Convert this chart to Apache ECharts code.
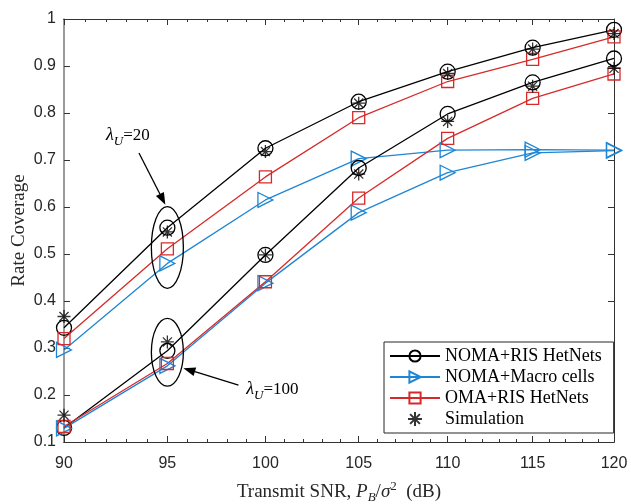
<!DOCTYPE html>
<html>
<head>
<meta charset="utf-8">
<script src="https://cdn.jsdelivr.net/npm/echarts@6/dist/echarts.min.js"></script>
<style>
  html, body { margin: 0; padding: 0; background: #fff; }
  #chart { width: 631px; height: 504px; }
</style>
</head>
<body>
<div id="chart"></div>
<script>
// x values (transmit SNR, dB) - the figure uses a log-scaled x axis
const snr = [90, 95, 100, 105, 110, 115, 120];
const xTicks = [90, 95, 100, 105, 110, 115, 120];
const yTicks = [0.1, 0.2, 0.3, 0.4, 0.5, 0.6, 0.7, 0.8, 0.9, 1];

// lambda_U = 20
const nomaRis20 = [0.343, 0.556, 0.725, 0.824, 0.888, 0.939, 0.977];
const nomaMacro20 = [0.296, 0.480, 0.615, 0.703, 0.721, 0.722, 0.721];
const omaRis20 = [0.320, 0.511, 0.664, 0.790, 0.867, 0.914, 0.962];
const sim20 = [0.367, 0.547, 0.718, 0.821, 0.884, 0.936, 0.969];

// lambda_U = 100
const nomaRis100 = [0.130, 0.294, 0.498, 0.683, 0.798, 0.865, 0.916];
const nomaMacro100 = [0.129, 0.262, 0.438, 0.588, 0.673, 0.715, 0.720];
const omaRis100 = [0.133, 0.267, 0.441, 0.619, 0.746, 0.831, 0.883];
const sim100 = [0.157, 0.313, 0.498, 0.670, 0.782, 0.857, 0.895];

const legendNames = ['NOMA+RIS HetNets', 'NOMA+Macro cells', 'OMA+RIS HetNets', 'Simulation'];

// minor ticks every 1 dB
const xMinor = [];
for (let v = 91; v < 120; v++) if (v % 5 !== 0) xMinor.push(v);

const SERIF = 'Liberation Serif, Times New Roman, serif';
const SANS = 'Liberation Sans, Arial, sans-serif';
const AX = '#333';

const chart = echarts.init(document.getElementById('chart'));

function pairs(ys) {
    return snr.map((x, i) => [x, ys[i]]);
}

function curve(name, ys, color, symbol, size, rotate) {
    return {
        type: 'line',
        name: name,
        data: pairs(ys),
        symbol: symbol,
        symbolSize: size,
        symbolRotate: rotate || 0,
        showAllSymbol: true,
        clip: false,
        z: 3,
        lineStyle: { color: color, width: 1.3 },
        itemStyle: { color: 'transparent', borderColor: color, borderWidth: 1.3 },
        emphasis: { disabled: true }
    };
}

const STAR = 'path://M10,0L10,20M0,10L20,10M3,3L17,17M3,17L17,3';

function sim(ys) {
    return {
        type: 'scatter',
        name: 'Simulation',
        data: pairs(ys),
        symbol: STAR,
        symbolSize: 13,
        clip: false,
        z: 4,
        itemStyle: { color: 'transparent', borderColor: '#000', borderWidth: 1.3 },
        emphasis: { disabled: true }
    };
}

function xAxisOf(pos, ticks, len, labels) {
    return {
        type: 'log',
        logBase: 10,
        min: 90,
        max: 120,
        position: pos,
        offset: 0,
        axisLine: { show: true, lineStyle: { color: AX, width: 1 } },
        axisTick: { show: true, inside: true, length: len, customValues: ticks, lineStyle: { color: AX } },
        axisLabel: labels ? {
            show: true, customValues: ticks, margin: 14,
            fontFamily: SANS, fontSize: 16, color: '#262626'
        } : { show: false },
        minorTick: { show: false },
        splitLine: { show: false }
    };
}

const xAxes = [
    xAxisOf('bottom', xTicks, 6, true),
    xAxisOf('bottom', xMinor, 3, false),
    xAxisOf('top', xTicks, 6, false),
    xAxisOf('top', xMinor, 3, false)
];
xAxes[0].name = '{t|Transmit SNR, }{i|P}{sub|B}{t|/}{i|σ}{sup|2}{t|  (dB)}';
xAxes[0].nameLocation = 'middle';
xAxes[0].nameGap = 38;
xAxes[0].nameTextStyle = {
    fontFamily: SERIF, fontSize: 19, color: '#262626',
    rich: {
        t: { fontFamily: SERIF, fontSize: 19, color: '#262626' },
        i: { fontFamily: SERIF, fontSize: 19, fontStyle: 'italic', color: '#262626' },
        sub: { fontFamily: SERIF, fontSize: 13, fontStyle: 'italic', color: '#262626', padding: [11, 0, 0, 0] },
        sup: { fontFamily: SERIF, fontSize: 13, color: '#262626', padding: [0, 0, 11, 0] }
    }
};

function yAxisOf(pos, labels) {
    return {
        type: 'value',
        min: 0.1,
        max: 1,
        interval: 0.1,
        position: pos,
        offset: 0,
        axisLine: { show: true, lineStyle: { color: pos === 'left' ? '#7a7a7a' : AX, width: pos === 'left' ? 1.5 : 1 } },
        axisTick: { show: true, inside: true, length: 6, lineStyle: { color: AX } },
        axisLabel: labels ? {
            show: true, margin: 8, fontFamily: SANS, fontSize: 16, color: '#262626',
            showMinLabel: true, showMaxLabel: true,
            formatter: v => (Math.abs(v - 1) < 1e-9 ? '1' : v.toFixed(1))
        } : { show: false },
        splitLine: { show: false }
    };
}

const yAxes = [yAxisOf('left', true), yAxisOf('right', false)];
yAxes[0].name = 'Rate Coverage';
yAxes[0].nameLocation = 'middle';
yAxes[0].nameGap = 35;
yAxes[0].nameMoveOverlap = false;
yAxes[0].nameTextStyle = { fontFamily: SERIF, fontSize: 19, color: '#262626' };

chart.setOption({
    animation: false,
    backgroundColor: '#fff',
    grid: { left: 64, right: 17, top: 19, bottom: 62, containLabel: false, outerBoundsMode: 'none' },
    xAxis: xAxes,
    yAxis: yAxes,
    legend: {
        data: legendNames,
        orient: 'vertical',
        left: 384,
        top: 342,
        itemWidth: 50,
        itemHeight: 14,
        itemGap: 3,
        padding: [5, 12, 5, 5],
        backgroundColor: '#fff',
        borderColor: '#262626',
        borderWidth: 1,
        borderRadius: 0,
        selectedMode: false,
        textStyle: { fontFamily: SERIF, fontSize: 18, lineHeight: 18, color: '#000' }
    },
    series: [
        curve('NOMA+RIS HetNets', nomaRis20, '#000000', 'circle', 15),
        curve('NOMA+Macro cells', nomaMacro20, '#1f86d4', 'triangle', 15, -90),
        curve('OMA+RIS HetNets', omaRis20, '#d62a2a', 'rect', 12),
        sim(sim20),
        curve('NOMA+RIS HetNets', nomaRis100, '#000000', 'circle', 15),
        curve('NOMA+Macro cells', nomaMacro100, '#1f86d4', 'triangle', 15, -90),
        curve('OMA+RIS HetNets', omaRis100, '#d62a2a', 'rect', 12),
        sim(sim100)
    ]
});

// annotations (data coordinates): ellipses round the 95 dB points, arrows and labels
const ellipses = [
    { x: 95, y: 0.514, dy: 0.087, rx: 16 },
    { x: 95, y: 0.291, dy: 0.072, rx: 16 }
];
const arrows = [
    { from: [93.6, 0.715], to: [94.9, 0.605] },
    { from: [98.6, 0.221], to: [95.8, 0.257] }
];
const notes = [
    { x: 92.0, y: 0.752, text: '20' },
    { x: 99.0, y: 0.212, text: '100' }
];

const px = (x, y) => chart.convertToPixel({ xAxisIndex: 0, yAxisIndex: 0 }, [x, y]);
const graphics = [];

ellipses.forEach(e => {
    const c = px(e.x, e.y);
    const t = px(e.x, e.y + e.dy);
    graphics.push({
        type: 'ellipse', z: 10,
        shape: { cx: c[0], cy: c[1], rx: e.rx, ry: c[1] - t[1] },
        style: { fill: 'none', stroke: '#000', lineWidth: 1.3 }
    });
});

arrows.forEach(a => {
    const p0 = px(a.from[0], a.from[1]);
    const p1 = px(a.to[0], a.to[1]);
    const dx = p1[0] - p0[0], dy = p1[1] - p0[1];
    const len = Math.sqrt(dx * dx + dy * dy);
    const ux = dx / len, uy = dy / len;
    const hl = 12, hw = 4.5;
    const bx = p1[0] - ux * hl, by = p1[1] - uy * hl;
    graphics.push({
        type: 'line', z: 10,
        shape: { x1: p0[0], y1: p0[1], x2: bx, y2: by },
        style: { stroke: '#000', lineWidth: 1.3 }
    });
    graphics.push({
        type: 'polygon', z: 10,
        shape: { points: [[p1[0], p1[1]], [bx - uy * hw, by + ux * hw], [bx + uy * hw, by - ux * hw]] },
        style: { fill: '#000' }
    });
});

notes.forEach(n => {
    const p = px(n.x, n.y);
    graphics.push({
        type: 'text', z: 10,
        x: p[0], y: p[1],
        style: {
            text: '{l|λ}{s|U}{n|=' + n.text + '}',
            verticalAlign: 'middle',
            rich: {
                l: { fontFamily: SERIF, fontSize: 18, fontStyle: 'italic', fill: '#000' },
                s: { fontFamily: SERIF, fontSize: 13, fontStyle: 'italic', fill: '#000', padding: [12, 0, 0, 0] },
                n: { fontFamily: SERIF, fontSize: 17, fill: '#000' }
            }
        }
    });
});

chart.setOption({ graphic: graphics });
</script>
</body>
</html>
